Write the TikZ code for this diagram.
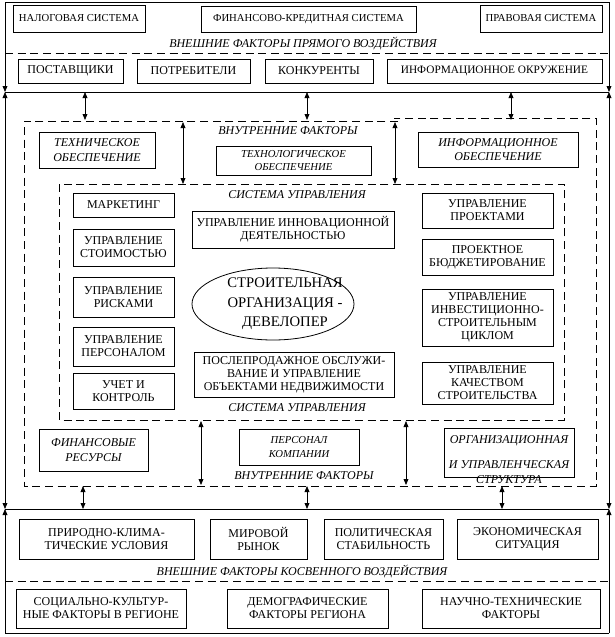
\documentclass[tikz,border=0pt]{standalone}
\usepackage{fontspec}
\setmainfont{Liberation Serif}
\usetikzlibrary{arrows.meta,shapes.geometric}
\newcommand{\bxn}[7]{\node[bx,#6,minimum width={(#4-#2)*0.75pt},minimum height={(#5-#3)*0.75pt}] (#1) at ({(#2+#4)/2},{(#3+#5)/2}) {#7};}
\begin{document}
\begin{tikzpicture}[x=0.75pt,y=-0.75pt,
  every node/.style={inner sep=0pt, outer sep=0pt, align=center},
  bx/.style={draw, line width=0.6pt},
  ln/.style={line width=0.6pt},
  dsh/.style={line width=0.6pt, dash pattern=on 6pt off 3.5pt},
  tip/.style={-{Triangle[length=4.5pt,width=3.6pt]}},
  dtip/.style={{Triangle[length=4.5pt,width=3.6pt]}-{Triangle[length=4.5pt,width=3.6pt]}},
  f8/.style={font=\fontsize{8}{9.5}\selectfont},
  f85/.style={font=\fontsize{8.5}{10}\selectfont},
  f9/.style={font=\fontsize{9}{9.7}\selectfont},
  fbig/.style={font=\fontsize{11}{14.5}\selectfont},
  it9/.style={font=\fontsize{9}{11}\selectfont\itshape},
  it8/.style={font=\fontsize{8}{10}\selectfont\itshape},
  lab/.style={font=\fontsize{9}{11}\selectfont\itshape}
]
\fill[white] (0,0) rectangle (615,637);
\useasboundingbox (0,0) rectangle (615,637);

% outer frame
\coordinate (TL) at (5,2);
\coordinate (TR) at (609,2);
\coordinate (ML) at (5,92);
\coordinate (MR) at (609,92);
\coordinate (BL) at (5,509);
\coordinate (BR) at (609,509);
\coordinate (BBL) at (5,633);
\coordinate (BBR) at (609,633);
\draw[ln] (TL) -- (TR);
\draw[ln] (ML) -- (MR);
\draw[ln] (BL) -- (BR);
\draw[ln] (BBL) -- (BBR);
\draw[ln,tip] (TL) -- (ML);
\draw[ln,tip] (TR) -- (MR);
\draw[ln,dtip] (ML) -- (BL);
\draw[ln,dtip] (MR) -- (BR);
\draw[ln,tip] (BBL) -- (BL);
\draw[ln,tip] (BBR) -- (BR);

% top section
\bxn{nalog}{13}{5}{145}{32}{f8}{НАЛОГОВАЯ СИСТЕМА}
\bxn{fin}{201}{6}{416}{32}{f8}{ФИНАНСОВО-КРЕДИТНАЯ СИСТЕМА}
\bxn{prav}{480}{5}{602}{32}{f8}{ПРАВОВАЯ СИСТЕМА}
\node[lab] (l1) at (303,43) {ВНЕШНИЕ ФАКТОРЫ ПРЯМОГО ВОЗДЕЙСТВИЯ};
\coordinate (d1a) at (5,53);
\coordinate (d1b) at (609,53);
\draw[dsh] (d1a) -- (d1b);
\bxn{post}{18}{59}{123}{83}{f9}{ПОСТАВЩИКИ}
\bxn{potr}{137}{59}{250}{83}{f9}{ПОТРЕБИТЕЛИ}
\bxn{konk}{265}{59}{373}{83}{f9}{КОНКУРЕНТЫ}
\bxn{infok}{387}{59}{602}{83}{f85}{ИНФОРМАЦИОННОЕ ОКРУЖЕНИЕ}

% internal factors frame
\draw[dsh] (398,121) -- (24,121) -- (24,486) -- (596,486) -- (596,118) -- (394,118);
\foreach \xx/\nm in {85/a, 307/b, 511/c}{
  \coordinate (u\nm1) at (\xx,92);
  \coordinate (u\nm2) at (\xx,120);
  \draw[ln,dtip] (u\nm1) -- (u\nm2);
}
\node[lab] (vf1) at (288,131) {ВНУТРЕННИЕ ФАКТОРЫ};
\bxn{tech}{39}{132}{155}{168}{it9}{ТЕХНИЧЕСКОЕ\\ОБЕСПЕЧЕНИЕ}
\bxn{techn}{216}{146}{371}{175}{it8}{ТЕХНОЛОГИЧЕСКОЕ\\ОБЕСПЕЧЕНИЕ}
\bxn{infob}{418}{132}{578}{167}{it9}{ИНФОРМАЦИОННОЕ\\ОБЕСПЕЧЕНИЕ}
\foreach \xx/\nm in {183/a, 395/b}{
  \coordinate (v\nm1) at (\xx,122);
  \coordinate (v\nm2) at (\xx,184);
  \draw[ln,dtip] (v\nm1) -- (v\nm2);
}

% management system frame
\coordinate (s1) at (59,184);
\coordinate (s2) at (564,420);
\draw[dsh] (s1) rectangle (s2);
\node[lab] (su1) at (297,195) {СИСТЕМА УПРАВЛЕНИЯ};
\node[lab] (su2) at (297,408) {СИСТЕМА УПРАВЛЕНИЯ};

\bxn{mark}{73}{193}{174}{217}{f9}{МАРКЕТИНГ}
\bxn{stoim}{73}{229}{174}{266}{f9}{УПРАВЛЕНИЕ\\СТОИМОСТЬЮ}
\bxn{risk}{73}{277}{174}{317}{f9}{УПРАВЛЕНИЕ\\РИСКАМИ}
\bxn{pers}{73}{327}{174}{366}{f9}{УПРАВЛЕНИЕ\\ПЕРСОНАЛОМ}
\bxn{uchet}{73}{373}{174}{409}{f9}{УЧЕТ И\\КОНТРОЛЬ}

\bxn{innov}{192}{211}{394}{248}{f9}{УПРАВЛЕНИЕ ИННОВАЦИОННОЙ\\ДЕЯТЕЛЬНОСТЬЮ}
\node[draw, line width=0.6pt, ellipse, minimum width={162*0.75pt}, minimum height={72*0.75pt}] (ell) at (273,304) {};
\node[fbig] (elltxt) at (285,304) {СТРОИТЕЛЬНАЯ\\ОРГАНИЗАЦИЯ -\\ДЕВЕЛОПЕР};
\bxn{poslep}{194}{352}{394}{397}{f9}{ПОСЛЕПРОДАЖНОЕ ОБСЛУЖИ-\\ВАНИЕ И УПРАВЛЕНИЕ\\ОБЪЕКТАМИ НЕДВИЖИМОСТИ}

\bxn{proekt}{422}{193}{553}{228}{f9}{УПРАВЛЕНИЕ\\ПРОЕКТАМИ}
\bxn{budg}{422}{239}{553}{275}{f9}{ПРОЕКТНОЕ\\БЮДЖЕТИРОВАНИЕ}
\bxn{invest}{422}{289}{553}{346}{f9}{УПРАВЛЕНИЕ\\ИНВЕСТИЦИОННО-\\СТРОИТЕЛЬНЫМ\\ЦИКЛОМ}
\bxn{kach}{422}{362}{553}{404}{f9}{УПРАВЛЕНИЕ\\КАЧЕСТВОМ\\СТРОИТЕЛЬСТВА}

% lower internal factors
\foreach \xx/\nm in {201/a, 406/b}{
  \coordinate (w\nm1) at (\xx,421);
  \coordinate (w\nm2) at (\xx,485);
  \draw[ln,dtip] (w\nm1) -- (w\nm2);
}
\bxn{finres}{39}{429}{148}{471}{it9}{ФИНАНСОВЫЕ\\РЕСУРСЫ}
\bxn{perskomp}{239}{429}{359}{465}{it8}{ПЕРСОНАЛ\\КОМПАНИИ}
\bxn{org}{444}{428}{574}{477}{}{}
\node[font=\fontsize{9}{11.25}\selectfont\itshape] (orgt) at (509,460) {ОРГАНИЗАЦИОННАЯ\\[7.5pt]И УПРАВЛЕНЧЕСКАЯ\\СТРУКТУРА};
\node[lab] (vf2) at (304,476) {ВНУТРЕННИЕ ФАКТОРЫ};
\foreach \xx/\nm in {83/a, 307/b, 502/c}{
  \coordinate (x\nm1) at (\xx,486);
  \coordinate (x\nm2) at (\xx,509);
  \draw[ln,dtip] (x\nm1) -- (x\nm2);
}

% bottom section
\bxn{prir}{19}{519}{194}{559}{f9}{ПРИРОДНО-КЛИМА-\\ТИЧЕСКИЕ УСЛОВИЯ}
\bxn{mir}{210}{519}{307}{559}{f9}{МИРОВОЙ\\РЫНОК}
\bxn{polit}{324}{519}{443}{559}{f9}{ПОЛИТИЧЕСКАЯ\\СТАБИЛЬНОСТЬ}
\bxn{ekon}{457}{519}{598}{559}{f9}{ЭКОНОМИЧЕСКАЯ\\СИТУАЦИЯ}
\node[lab] (l2) at (302,571) {ВНЕШНИЕ ФАКТОРЫ КОСВЕННОГО ВОЗДЕЙСТВИЯ};
\coordinate (d2a) at (5,581);
\coordinate (d2b) at (609,581);
\draw[dsh] (d2a) -- (d2b);
\bxn{soc}{16}{589}{186}{628}{f9}{СОЦИАЛЬНО-КУЛЬТУР-\\НЫЕ ФАКТОРЫ В РЕГИОНЕ}
\bxn{demo}{227}{589}{388}{628}{f9}{ДЕМОГРАФИЧЕСКИЕ\\ФАКТОРЫ РЕГИОНА}
\bxn{nauch}{422}{589}{600}{628}{f9}{НАУЧНО-ТЕХНИЧЕСКИЕ\\ФАКТОРЫ}
\end{tikzpicture}
\end{document}
